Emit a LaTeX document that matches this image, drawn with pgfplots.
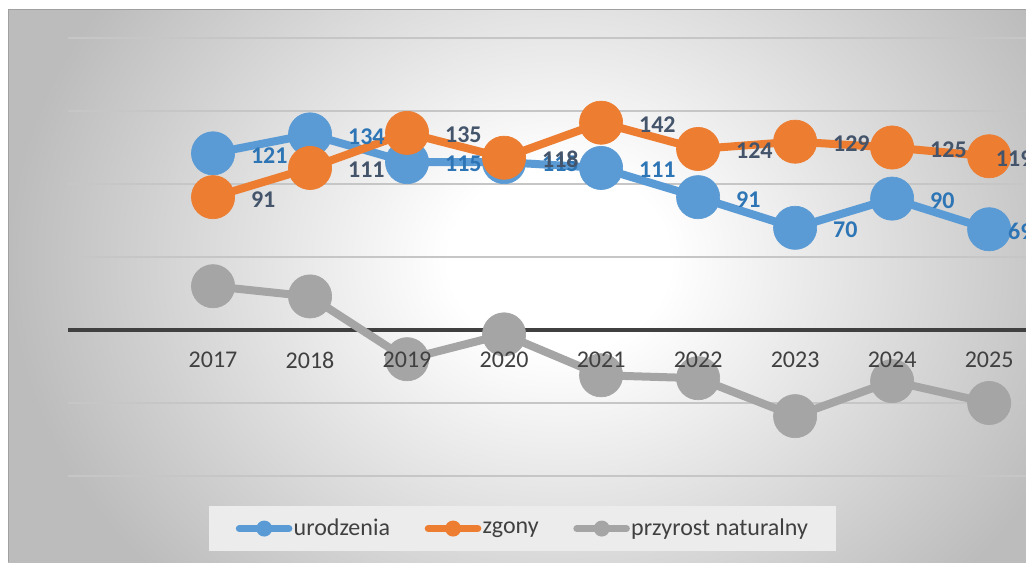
\documentclass[border=0pt]{standalone}
\usepackage{pgfplots}
\pgfplotsset{compat=1.18}
\usepackage{pgfplotstable}
\usepackage{fontspec}
\setmainfont{Carlito}
\definecolor{cblue}{HTML}{5B9BD5}
\definecolor{corange}{HTML}{ED7D31}
\definecolor{cgray}{HTML}{A5A5A5}
\definecolor{lblue}{HTML}{2E75B6}
\definecolor{ldark}{HTML}{44546A}
\definecolor{tickc}{HTML}{404040}
\definecolor{bggray}{HTML}{BCBCBC}
\definecolor{legfill}{HTML}{ECECEC}
\definecolor{gridlight}{HTML}{C6C6C6}
\definecolor{griddark}{HTML}{8F8F8F}
\pgfdeclareradialshading{bgshade}{\pgfpoint{0bp}{0bp}}{color(0bp)=(white); color(5bp)=(white); color(25bp)=(bggray); color(50bp)=(bggray)}
\newcommand\fs{\fontsize{18}{21.6}\selectfont}

\pgfplotstableread{
year ur zg pn
2017 121 91 30
2018 134 111 23
2019 115 135 -20
2020 115 118 -3
2021 111 142 -31
2022 91 124 -33
2023 70 129 -59
2024 90 125 -35
2025 69 119 -50
}\data

\pgfplotsset{
  myleg/.style={legend image code/.code={
     \draw[draw=#1, fill=none, line width=5pt, line cap=round] (2.6pt,0pt) -- (40pt,0pt);
     \path[draw=none, fill=#1, line width=0pt] (21.4pt,0pt) circle[radius=6pt];}},
  geom/.style={at={(51pt,-357pt)}, anchor=south west, scale only axis,
     width=718.5pt, height=328.5pt, xmin=2015.505, xmax=2025.38,
     ymin=-100, ymax=200},
}

\begin{document}
\begin{tikzpicture}
\path[use as bounding box] (0pt,0pt) rectangle (769.5pt,-421.5pt);
\clip (0pt,0pt) rectangle (769.5pt,-421.5pt);
\fill[white] (0pt,0pt) rectangle (769.5pt,-421.5pt);
\begin{scope}[x=0.75pt,y=-0.75pt]
\clip (8,9) rectangle (1026,562);
\shade[shading=bgshade] (8,-200) rectangle (1110,720);
\draw[color=bggray!85!black, line width=1.5pt] (8,562) -- (8,9) -- (1026,9);
\end{scope}

\begin{axis}[geom, clip=false,
  axis x line=middle, axis y line*=left,
  x axis line style={-, draw=tickc, line width=2.4pt},
  y axis line style={draw=none},
  xtick={2017,2018,2019,2020,2021,2022,2023,2024,2025}, xticklabels=\empty,
  ytick={50,100,150,200}, yticklabels=\empty,
  extra y ticks={-100,-50}, extra y tick labels={},
  extra y tick style={grid style={color=griddark, line width=1.3pt}},
  major tick length=0pt,
  ymajorgrids, major grid style={color=gridlight, line width=1.1pt},
  /pgf/number format/assume math mode=true,
  legend columns=-1,
  legend style={at={(0.4745,-0.12)}, anchor=center, draw=none, fill=legfill,
     font=\fs, text=tickc, inner xsep=20pt, inner ysep=8pt,
     nodes={inner xsep=1pt, inner ysep=2pt},
     /tikz/every even column/.append style={column sep=25pt}},
]
\addplot[cblue, line width=6pt, line join=round, mark=*, mark size=16.2pt,
  mark options={line width=0.5pt, fill=cblue, draw=cblue}, myleg=cblue]
  table[x=year, y=ur]{\data};
\addlegendentry{urodzenia}
\addplot[corange, line width=6pt, line join=round, mark=*, mark size=16.2pt,
  mark options={line width=0.5pt, fill=corange, draw=corange}, myleg=corange]
  table[x=year, y=zg]{\data};
\addlegendentry{zgony}
\addplot[cgray, line width=6pt, line join=round, mark=*, mark size=16.2pt,
  mark options={line width=0.5pt, fill=cgray, draw=cgray}, myleg=cgray]
  table[x=year, y=pn]{\data};
\addlegendentry{przyrost naturalny}

% data labels
\addplot[draw=none, mark=none, forget plot, skip coords between index={8}{9},
  nodes near coords, nodes near coords align=horizontal,
  every node near coord/.append style={font=\fs\bfseries, text=lblue, anchor=west, xshift=25pt, yshift=-1.5pt}]
  table[x=year, y=ur, meta=ur]{\data};
\addplot[draw=none, mark=none, forget plot, skip coords between index={8}{9},
  nodes near coords, nodes near coords align=horizontal,
  every node near coord/.append style={font=\fs\bfseries, text=ldark, anchor=west, xshift=25pt, yshift=-1.5pt}]
  table[x=year, y=zg, meta=zg]{\data};
\addplot[draw=none, mark=none, forget plot, skip coords between index={0}{8},
  nodes near coords, nodes near coords align=horizontal,
  every node near coord/.append style={font=\fs\bfseries, text=lblue, anchor=east, xshift=36pt, yshift=-1.5pt}]
  table[x=year, y=ur, meta=ur]{\data};
\addplot[draw=none, mark=none, forget plot, skip coords between index={0}{8},
  nodes near coords, nodes near coords align=horizontal,
  every node near coord/.append style={font=\fs\bfseries, text=ldark, anchor=east, xshift=36pt, yshift=-1.5pt}]
  table[x=year, y=zg, meta=zg]{\data};
\end{axis}

\begin{axis}[geom, axis x line=middle, axis y line=none,
  x axis line style={draw=none, -},
  xtick={2017,2018,2019,2020,2021,2022,2023,2024,2025},
  xticklabels={2017,2018,2019,2020,2021,2022,2023,2024,2025},
  major tick length=0pt,
  xticklabel style={font=\fs, text=tickc, anchor=center, yshift=-22.5pt},
]
\addplot[draw=none, mark=none] coordinates {(2017,0)};
\end{axis}
\end{tikzpicture}
\end{document}
